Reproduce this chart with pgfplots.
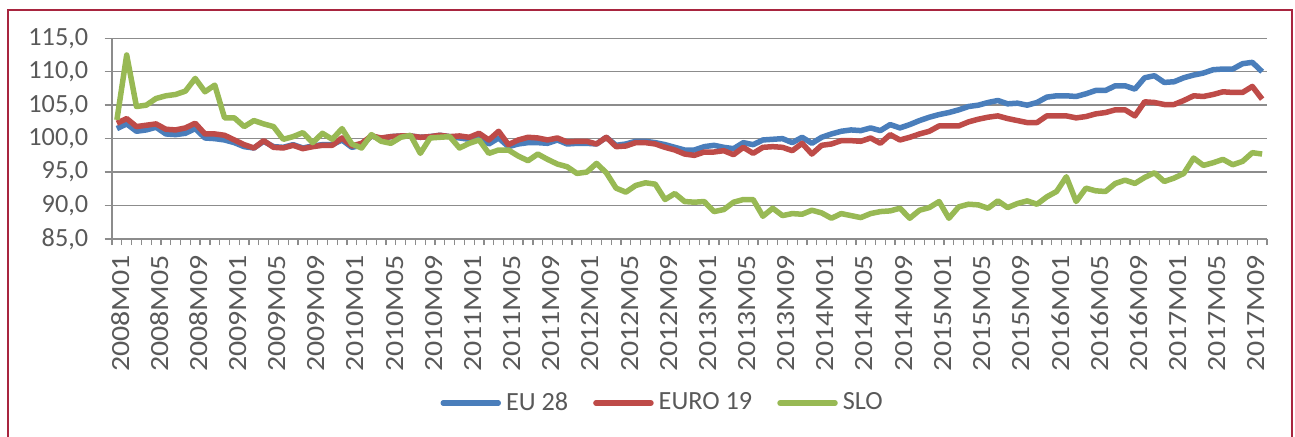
\documentclass[border=0pt]{standalone}
\usepackage{fontspec}
\setmainfont{Carlito}
\usepackage{pgfplots}
\usepackage{pgfplotstable}
\pgfplotsset{compat=1.18}

\definecolor{eublue}{HTML}{4A7EBB}
\definecolor{eurored}{HTML}{BE4B48}
\definecolor{slogreen}{HTML}{98B954}
\definecolor{gridgray}{HTML}{8C8C8C}
\definecolor{txtgray}{HTML}{595959}
\definecolor{framered}{HTML}{A8253F}

\newcommand\chartfont{\fontsize{10.5pt}{12pt}\selectfont}
% month labels are drawn a little stretched along their length, as in the source
\newcommand\xl[1]{\scalebox{1.14}[1]{#1}}

% i = month index from 2008M01
\pgfplotstableread{
i eu euro slo
0 101.5 102.3 102.8
1 102.2 103.0 112.5
2 101.1 101.8 104.8
3 101.3 102.0 105.0
4 101.7 102.2 106.0
5 100.7 101.4 106.4
6 100.6 101.3 106.6
7 100.8 101.6 107.1
8 101.5 102.3 109.0
9 100.1 100.7 107.0
10 100.0 100.7 108.0
11 99.8 100.5 103.1
12 99.4 99.8 103.1
13 98.8 99.1 101.8
14 98.6 98.6 102.7
15 99.6 99.7 102.2
16 98.8 98.7 101.8
17 98.7 98.6 99.9
18 99.1 99.0 100.3
19 98.6 98.5 100.9
20 98.9 98.8 99.4
21 99.1 99.0 100.8
22 99.1 99.0 99.9
23 99.8 100.1 101.5
24 98.7 98.9 99.2
25 99.0 99.3 98.6
26 100.4 100.4 100.6
27 100.0 100.1 99.6
28 100.3 100.3 99.3
29 100.4 100.4 100.2
30 100.4 100.4 100.5
31 100.2 100.2 97.8
32 100.3 100.3 100.1
33 100.5 100.5 100.2
34 100.3 100.3 100.3
35 100.1 100.4 98.6
36 99.9 100.2 99.3
37 100.3 100.8 99.8
38 99.2 99.8 97.8
39 100.1 101.1 98.3
40 98.8 99.1 98.3
41 99.2 99.8 97.4
42 99.4 100.2 96.7
43 99.4 100.1 97.7
44 99.3 99.8 96.9
45 99.8 100.1 96.2
46 99.2 99.5 95.8
47 99.3 99.6 94.8
48 99.3 99.6 95.0
49 99.2 99.2 96.3
50 100.2 100.2 94.9
51 99.0 98.8 92.6
52 99.2 98.9 92.0
53 99.6 99.4 93.0
54 99.6 99.4 93.4
55 99.4 99.2 93.2
56 99.1 98.7 90.9
57 98.7 98.3 91.8
58 98.3 97.7 90.6
59 98.3 97.5 90.5
60 98.8 98.0 90.6
61 99.0 98.0 89.1
62 98.7 98.2 89.4
63 98.5 97.6 90.5
64 99.4 98.7 90.9
65 99.1 97.8 90.9
66 99.8 98.7 88.4
67 99.9 98.8 89.6
68 100.0 98.7 88.5
69 99.4 98.2 88.8
70 100.2 99.3 88.7
71 99.3 97.7 89.3
72 100.2 99.0 88.9
73 100.7 99.2 88.1
74 101.1 99.7 88.8
75 101.3 99.7 88.5
76 101.2 99.6 88.2
77 101.6 100.1 88.8
78 101.2 99.3 89.1
79 102.1 100.6 89.2
80 101.6 99.8 89.6
81 102.1 100.2 88.1
82 102.7 100.7 89.3
83 103.2 101.1 89.7
84 103.6 101.9 90.6
85 103.9 101.9 88.1
86 104.3 101.9 89.8
87 104.8 102.5 90.2
88 105.0 102.9 90.1
89 105.4 103.2 89.6
90 105.7 103.4 90.7
91 105.2 103.0 89.7
92 105.3 102.7 90.3
93 105.0 102.4 90.7
94 105.4 102.4 90.2
95 106.2 103.4 91.3
96 106.4 103.4 92.1
97 106.4 103.4 94.3
98 106.3 103.1 90.6
99 106.7 103.3 92.6
100 107.2 103.7 92.2
101 107.2 103.9 92.1
102 107.9 104.3 93.3
103 107.9 104.3 93.8
104 107.4 103.4 93.3
105 109.1 105.5 94.2
106 109.4 105.4 94.9
107 108.4 105.1 93.6
108 108.5 105.1 94.1
109 109.1 105.7 94.8
110 109.5 106.4 97.1
111 109.8 106.3 96.0
112 110.3 106.6 96.4
113 110.4 107.0 96.9
114 110.4 106.9 96.1
115 111.2 106.9 96.6
116 111.4 107.8 97.9
117 110.0 105.9 97.7
}\indexdata

\begin{document}
\begin{tikzpicture}
\useasboundingbox (-44.8pt,-78.8pt) rectangle (473.2pt,95.6pt);
\draw[framered, line width=0.9pt] (-41.6pt,-100pt) -- (-41.6pt,91.6pt) -- (472pt,91.6pt) -- (472pt,-100pt);
\begin{axis}[
    at={(0,0)}, anchor=south west,
    scale only axis,
    width=462pt, height=80.3pt,
    xmin=-0.5, xmax=117.5,
    ymin=85, ymax=115,
    ytick={85,90,...,115},
    xtick={0,4,...,116},
    xticklabels={\xl{2008M01},\xl{2008M05},\xl{2008M09},\xl{2009M01},\xl{2009M05},\xl{2009M09},\xl{2010M01},\xl{2010M05},\xl{2010M09},\xl{2011M01},\xl{2011M05},\xl{2011M09},\xl{2012M01},\xl{2012M05},\xl{2012M09},\xl{2013M01},\xl{2013M05},\xl{2013M09},\xl{2014M01},\xl{2014M05},\xl{2014M09},\xl{2015M01},\xl{2015M05},\xl{2015M09},\xl{2016M01},\xl{2016M05},\xl{2016M09},\xl{2017M01},\xl{2017M05},\xl{2017M09}},
    minor xtick={-0.5,0.5,...,117.5},
    axis x line*=bottom, axis y line*=left,
    axis line style={draw=gridgray, line width=0.6pt, -},
    tick align=outside,
    major tick length=3pt,
    minor tick length=2.4pt,
    x tick style={draw=none},
    minor x tick style={draw=gridgray, line width=0.5pt},
    y tick style={draw=gridgray, line width=0.6pt},
    ymajorgrids,
    major grid style={draw=gridgray, line width=0.6pt},
    ticklabel style={font=\chartfont, text=txtgray},
    xticklabel style={rotate=90, anchor=east, yshift=-1.5pt},
    yticklabel style={xshift=-3pt},
    /pgf/number format/.cd, fixed, fixed zerofill, precision=1, use comma, assume math mode=true,
    /pgfplots/.cd,
    legend columns=3,
    legend style={at={(0.478,-0.817)}, anchor=center, draw=none, fill=none,
        font=\chartfont, text=txtgray,
        /tikz/every even column/.append style={column sep=8pt}},
    legend image code/.code={\draw[#1, line cap=round] (0pt,0pt) -- (22pt,0pt);},
    every axis plot/.append style={line width=2.2pt, line join=round},
]
\addplot[eublue, no marks] table[x=i, y=eu] {\indexdata};
\addlegendentry{EU 28}
\addplot[eurored, no marks] table[x=i, y=euro] {\indexdata};
\addlegendentry{EURO 19}
\addplot[slogreen, no marks] table[x=i, y=slo] {\indexdata};
\addlegendentry{SLO}
\end{axis}
\end{tikzpicture}
\end{document}
